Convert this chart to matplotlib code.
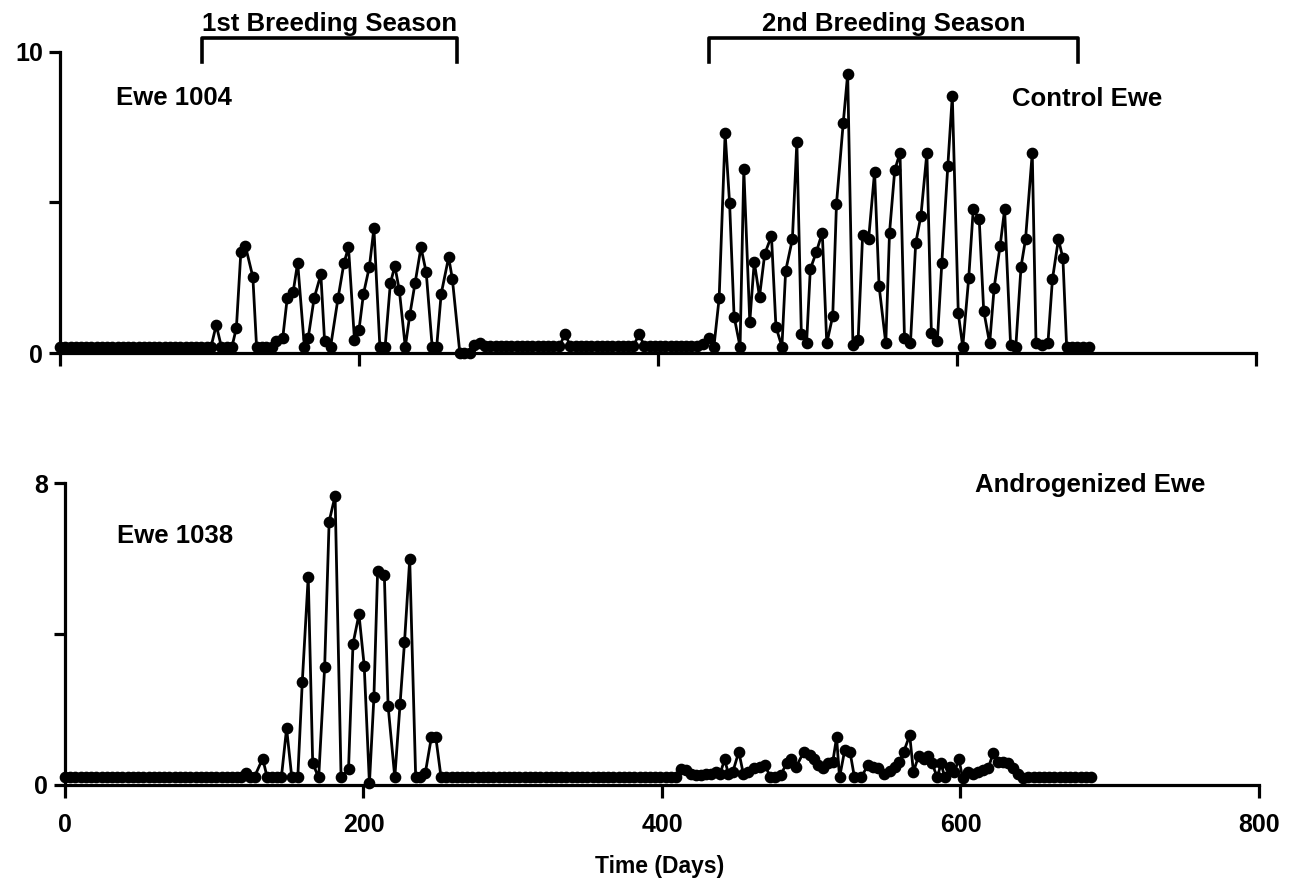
import matplotlib
matplotlib.use("Agg")
import matplotlib.pyplot as plt

# Control ewe (Ewe 1004), sampled twice weekly
ctrl_days = [
    0, 3.5, 7, 10.5, 14, 17.5, 21, 24.5, 28, 31.5,
    35, 38.5, 42, 45.5, 49, 52.5, 56, 59.5, 63, 66.5,
    70, 73.5, 77, 80.5, 84, 87.5, 91, 94.5, 98, 101,
    104.5, 108, 111.5, 115, 118, 121, 124, 129, 131.5, 135,
    138, 141.5, 144.5, 149, 152, 156, 159, 163.5, 166, 170,
    174.5, 177, 181, 186, 190, 193, 197, 200, 203, 207,
    210, 214, 217.5, 221, 224, 227, 231, 234, 237.5, 241.5,
    245, 249, 252, 255, 260, 262.5, 267.5, 270.5, 274, 277,
    281, 284.5, 288, 291.5, 295, 298.5, 302, 305.5, 309, 312.5,
    316, 319.5, 323, 326.5, 330, 334, 338, 341.5, 345, 348.5,
    352, 355.5, 359, 362.5, 366, 369.5, 373, 376.5, 380, 383.5,
    387.5, 391, 394.5, 398, 401.5, 405, 408.5, 412, 415.5, 419,
    422.5, 426, 430, 434, 437.5, 441, 445, 448, 451, 455,
    457.5, 461.5, 464.5, 468, 471.5, 476, 479, 483, 485.5, 490,
    493, 496, 499.5, 502, 506, 510, 513, 517, 519.5, 524,
    527, 530.5, 534, 537, 541, 545, 548, 552.5, 555, 558.5,
    562, 565, 569, 572.5, 576, 580, 583, 587, 590, 594,
    597, 601, 604, 608, 611, 615, 618, 622, 625, 629,
    632, 636, 639.5, 643, 646, 650.5, 653, 657, 661, 664,
    668, 671, 673.5, 677, 680.5, 684.5, 688.5,
]
ctrl_vals = [
    0.2, 0.2, 0.2, 0.2, 0.2, 0.2, 0.2, 0.2, 0.2, 0.2,
    0.2, 0.2, 0.2, 0.2, 0.2, 0.2, 0.2, 0.2, 0.2, 0.2,
    0.2, 0.2, 0.2, 0.2, 0.2, 0.2, 0.2, 0.2, 0.2, 0.2,
    0.93, 0.2, 0.2, 0.2, 0.84, 3.37, 3.56, 2.53, 0.2, 0.2,
    0.2, 0.2, 0.4, 0.5, 1.82, 2.04, 3.0, 0.2, 0.49, 1.82,
    2.61, 0.4, 0.2, 1.82, 3.0, 3.51, 0.43, 0.76, 1.96, 2.87,
    4.14, 0.2, 0.2, 2.31, 2.89, 2.09, 0.2, 1.26, 2.31, 3.51,
    2.68, 0.2, 0.2, 1.96, 3.18, 2.46, 0.0, 0.0, 0.0, 0.27,
    0.33, 0.22, 0.22, 0.22, 0.22, 0.22, 0.22, 0.22, 0.22, 0.22,
    0.22, 0.22, 0.22, 0.22, 0.22, 0.22, 0.63, 0.22, 0.22, 0.22,
    0.22, 0.22, 0.22, 0.22, 0.22, 0.22, 0.22, 0.22, 0.22, 0.22,
    0.63, 0.22, 0.22, 0.22, 0.22, 0.22, 0.22, 0.22, 0.22, 0.22,
    0.22, 0.22, 0.3, 0.5, 0.21, 1.82, 7.3, 4.97, 1.21, 0.21,
    6.1, 1.04, 3.03, 1.87, 3.29, 3.89, 0.87, 0.21, 2.73, 3.78,
    7.02, 0.63, 0.32, 2.79, 3.35, 4.0, 0.32, 1.23, 4.95, 7.63,
    9.27, 0.27, 0.43, 3.92, 3.78, 6.02, 2.23, 0.32, 4.0, 6.08,
    6.65, 0.49, 0.32, 3.64, 4.56, 6.65, 0.68, 0.4, 3.0, 6.21,
    8.55, 1.32, 0.21, 2.5, 4.77, 4.45, 1.41, 0.32, 2.17, 3.56,
    4.77, 0.27, 0.21, 2.87, 3.78, 6.65, 0.34, 0.27, 0.34, 2.45,
    3.78, 3.15, 0.21, 0.21, 0.21, 0.21, 0.21,
]

# Androgenized ewe (Ewe 1038)
andro_days = [
    0, 3.5, 7, 10.5, 14, 17.5, 21, 24.5, 28, 31.5,
    35, 38.5, 42, 45.5, 49, 52.5, 56, 59.5, 63, 66.5,
    70, 73.5, 77, 80.5, 84, 87.5, 91, 94.5, 98, 101.5,
    105, 108.5, 112, 115.5, 118, 121, 124, 127, 132.5, 135.5,
    139, 142, 145, 148.5, 152, 156, 159, 163, 166, 170,
    174, 177, 181, 185, 190, 193, 197, 200.5, 204, 207,
    209.5, 214, 216.5, 221, 224.5, 227.5, 231, 235, 238, 241.5,
    245.5, 248.5, 252, 255.5, 259, 262.5, 266, 269.5, 273, 276.5,
    280, 283.5, 287, 290.5, 294, 297.5, 301, 304.5, 308, 311.5,
    315, 318.5, 322, 325.5, 329, 332.5, 336, 339.5, 343, 346.5,
    350, 353.5, 357, 360.5, 364, 367.5, 371, 374.5, 378, 381.5,
    385, 388.5, 392, 395.5, 399, 402.5, 406, 409.5, 413, 416,
    419.5, 423, 426, 429.5, 433, 436, 439, 442, 444.5, 447.5,
    451.5, 454.5, 457.5, 462, 465.5, 469, 472.5, 476, 479.5, 483.5,
    486.5, 490, 495, 499, 502, 504.5, 508, 511.5, 514.5, 517,
    519, 522.5, 526, 529, 533.5, 538, 541.5, 545, 549, 552.5,
    556, 559, 562, 566, 568.5, 572, 575.5, 578.5, 581, 584.5,
    587, 589.5, 593, 596, 599, 601.5, 605, 608.5, 612, 615,
    618.5, 622, 625, 628.5, 632, 635, 638.5, 642, 645.5, 649,
    652.5, 656, 659.5, 663, 666.5, 670, 673.5, 677, 680.5, 684,
    687.5,
]
andro_vals = [
    0.2, 0.2, 0.2, 0.2, 0.2, 0.2, 0.2, 0.2, 0.2, 0.2,
    0.2, 0.2, 0.2, 0.2, 0.2, 0.2, 0.2, 0.2, 0.2, 0.2,
    0.2, 0.2, 0.2, 0.2, 0.2, 0.2, 0.2, 0.2, 0.2, 0.2,
    0.2, 0.2, 0.2, 0.2, 0.2, 0.33, 0.2, 0.22, 0.7, 0.2,
    0.2, 0.2, 0.2, 1.5, 0.2, 0.2, 2.72, 5.52, 0.57, 0.2,
    3.12, 6.98, 7.66, 0.2, 0.42, 3.74, 4.52, 3.16, 0.04, 2.32,
    5.68, 5.56, 2.1, 0.2, 2.15, 3.78, 5.98, 0.2, 0.22, 0.33,
    1.26, 1.26, 0.2, 0.2, 0.2, 0.2, 0.2, 0.2, 0.2, 0.2,
    0.2, 0.2, 0.2, 0.2, 0.2, 0.2, 0.2, 0.2, 0.2, 0.2,
    0.2, 0.2, 0.2, 0.2, 0.2, 0.2, 0.2, 0.2, 0.2, 0.2,
    0.2, 0.2, 0.2, 0.2, 0.2, 0.2, 0.2, 0.2, 0.2, 0.2,
    0.2, 0.2, 0.2, 0.2, 0.2, 0.2, 0.2, 0.2, 0.42, 0.4,
    0.3, 0.26, 0.26, 0.3, 0.3, 0.35, 0.3, 0.68, 0.3, 0.35,
    0.88, 0.3, 0.35, 0.44, 0.47, 0.53, 0.22, 0.22, 0.26, 0.57,
    0.68, 0.48, 0.88, 0.79, 0.68, 0.53, 0.44, 0.57, 0.62, 1.26,
    0.2, 0.93, 0.88, 0.2, 0.2, 0.53, 0.47, 0.44, 0.3, 0.37,
    0.48, 0.62, 0.88, 1.32, 0.35, 0.77, 0.68, 0.77, 0.57, 0.2,
    0.57, 0.2, 0.48, 0.35, 0.68, 0.18, 0.35, 0.3, 0.35, 0.4,
    0.44, 0.84, 0.62, 0.62, 0.57, 0.44, 0.3, 0.18, 0.2, 0.2,
    0.2, 0.2, 0.2, 0.2, 0.2, 0.2, 0.2, 0.2, 0.2, 0.2,
    0.2,
]

# breeding season brackets (start day, end day, label)
seasons = [(95, 265.5, "1st Breeding Season"), (434, 681, "2nd Breeding Season")]
x_ticks = [0, 200, 400, 600, 800]


def style_axis(ax, ymax, show_xlabels):
    for side in ("top", "right"):
        ax.spines[side].set_visible(False)
    for side in ("left", "bottom"):
        ax.spines[side].set_linewidth(2.3)
    ax.set_xlim(0, 800)
    ax.set_ylim(0, ymax)
    ax.set_xticks(x_ticks)
    ax.set_yticks([0, ymax / 2, ymax])
    ax.set_yticklabels(["0", "", str(ymax)])
    if show_xlabels:
        ax.set_xticklabels([str(t) for t in x_ticks])
    else:
        ax.set_xticklabels([])
    ax.tick_params(axis="x", direction="out", length=9, width=2.3, pad=11, labelsize=18)
    ax.tick_params(axis="y", direction="out", length=8, width=2.3, pad=4, labelsize=18)
    for lab in ax.get_xticklabels() + ax.get_yticklabels():
        lab.set_fontweight("bold")


def main():
    plt.rcParams["font.family"] = ["Liberation Sans", "DejaVu Sans"]
    plt.rcParams["font.weight"] = "bold"

    fig = plt.figure(figsize=(12.94, 8.96), dpi=100)
    ax_top = fig.add_axes([0.0464, 0.606, 0.924, 0.336])
    ax_bot = fig.add_axes([0.0502, 0.1239, 0.9227, 0.337])

    line_kw = dict(color="black", linewidth=2.0, marker="o", markersize=7.4, clip_on=False)
    fs = 18.5

    # 上图: 对照母羊
    ax_top.plot(ctrl_days, ctrl_vals, **line_kw)
    style_axis(ax_top, 10, False)
    ax_top.text(37.5, 8.24, "Ewe 1004", fontsize=fs, fontweight="bold")
    ax_top.text(637, 8.2, "Control Ewe", fontsize=fs, fontweight="bold")

    for start, end, label in seasons:
        ax_top.plot([start, start, end, end], [9.67, 10.47, 10.47, 9.67],
                    color="black", linewidth=2.6, clip_on=False)
        ax_top.text((start + end) / 2, 10.7, label, ha="center", va="baseline",
                    fontsize=fs, fontweight="bold")

    # 下图: 雄激素化母羊
    ax_bot.plot(andro_days, andro_vals, **line_kw)
    style_axis(ax_bot, 8, True)
    ax_bot.text(34.8, 6.42, "Ewe 1038", fontsize=fs, fontweight="bold")
    ax_bot.text(610, 7.77, "Androgenized Ewe", fontsize=fs, fontweight="bold")

    fig.text(660 / 1294, 1 - 866 / 896, "Time (Days)", ha="center", va="center",
             fontsize=16.5, fontweight="bold")

    fig.savefig("out.png", dpi=100)


if __name__ == "__main__":
    main()
